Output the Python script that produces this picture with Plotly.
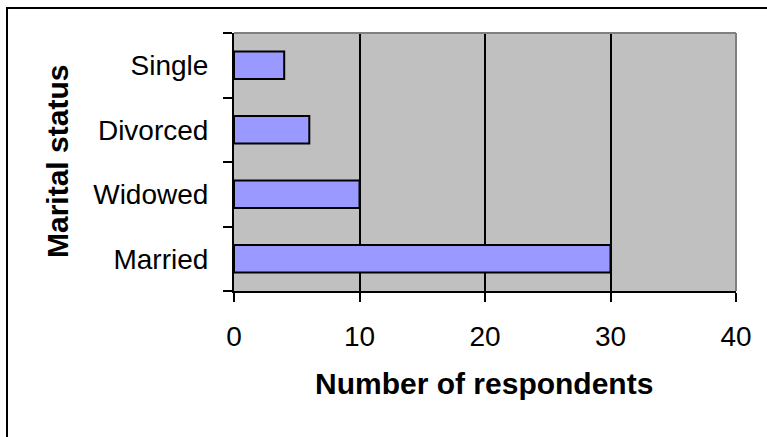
import plotly.graph_objects as go

# Data
categories = ["Married", "Widowed", "Divorced", "Single"]
respondents = [30, 10, 6, 4]
x_ticks = [0, 10, 20, 30, 40]
x_title = "Number of respondents"
y_title = "Marital status"

W, H = 767, 437
L, R, T, B = 234, 31, 33, 146
pw, ph = W - L - R, H - T - B

def px_x(x):
    return (x - L) / pw

def px_y(y):
    return (H - B - y) / ph

fig = go.Figure(go.Bar(
    x=respondents, y=categories, orientation="h",
    marker=dict(color="#9999FF", line=dict(color="black", width=2)),
    width=0.43,
))

font_tick = dict(family="Liberation Sans, Arial, sans-serif", size=28, color="black")
font_title = dict(family="Liberation Sans, Arial, sans-serif", size=30, color="black")

fig.update_layout(
    width=W, height=H,
    margin=dict(l=L, r=R, t=T, b=B, autoexpand=False),
    paper_bgcolor="white", plot_bgcolor="#C0C0C0",
    showlegend=False,
    xaxis=dict(range=[0, 40], tickvals=x_ticks, ticktext=[str(v) for v in x_ticks],
               showgrid=True, gridcolor="black", gridwidth=2, zeroline=False,
               showline=True, linecolor="black", linewidth=2,
               ticks="outside", ticklen=9, tickwidth=2, tickcolor="black",
               ticklabelstandoff=10,
               tickfont=font_tick, fixedrange=True),
    yaxis=dict(categoryorder="array", categoryarray=categories,
               showgrid=False, zeroline=False,
               showline=True, linecolor="black", linewidth=2,
               ticks="outside", ticklen=9, tickwidth=2, tickcolor="black",
               tickson="boundaries", ticklabelstandoff=18,
               tickfont=font_tick, fixedrange=True),
    shapes=[
        # plot-area frame (top and right, grey)
        dict(type="line", xref="paper", yref="paper", x0=0, x1=1, y0=1, y1=1,
             line=dict(color="#808080", width=2), layer="above"),
        dict(type="line", xref="paper", yref="paper", x0=1, x1=1, y0=0, y1=1,
             line=dict(color="#808080", width=2), layer="above"),
        # outer chart border
        dict(type="rect", xref="paper", yref="paper",
             x0=px_x(7), x1=px_x(775), y0=px_y(445), y1=px_y(8),
             line=dict(color="black", width=2), fillcolor="rgba(0,0,0,0)", layer="above"),
    ],
    annotations=[
        dict(text="<b>" + x_title + "</b>", xref="paper", yref="paper",
             x=px_x(484), y=px_y(383), xanchor="center", yanchor="middle",
             showarrow=False, font=font_title),
        dict(text="<b>" + y_title + "</b>", xref="paper", yref="paper",
             x=px_x(57), y=px_y(162), xanchor="center", yanchor="middle",
             textangle=-90, showarrow=False, font=font_title),
    ],
)

fig.write_html("out.html", config={"displayModeBar": False},
               post_script="document.body.style.margin='0';")
